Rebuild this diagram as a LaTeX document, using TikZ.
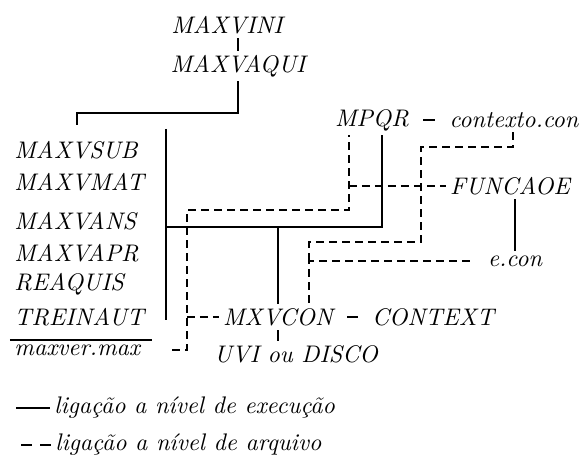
\documentclass[tikz,border=0pt]{standalone}
\usepackage{fontspec}
\newfontfamily\progfont{lmroman10-italic.otf}
\usepackage{tikz}
\usetikzlibrary{positioning,calc}

\begin{document}
\begin{tikzpicture}[
  x=0.5pt,y=-0.5pt,
  prog/.style={inner sep=2pt,font=\fontsize{12}{14}\progfont},
  lst/.style={prog,anchor=west},
  exe/.style={line width=0.8pt},
  arq/.style={line width=0.8pt,dash pattern=on 4pt off 2.5pt},
  tie/.style={exe,shorten <=5pt,shorten >=5pt},
]
  \useasboundingbox (0,0) rectangle (586,460);

  % programas
  \node[prog] (vini)    at (227,25)  {MAXVINI};
  \node[prog] (vaqui)   at (238,66)  {MAXVAQUI};
  \node[prog] (mpqr)    at (372,120) {MPQR};
  \node[prog] (ctxcon)  at (514,120) {contexto.con};
  \node[prog] (funcaoe) at (510,186) {FUNCAOE};
  \node[prog] (econ)    at (515,261) {e.con};
  \node[prog] (mxvcon)  at (278,317) {MXVCON};
  \node[prog] (context) at (433,317) {CONTEXT};
  \node[prog] (uvi)     at (296,354) {UVI ou DISCO};

  \node[lst] (sub)    at (10,150) {MAXVSUB};
  \node[lst] (mat)    at (10,182) {MAXVMAT};
  \node[lst] (ans)    at (10,221) {MAXVANS};
  \node[lst] (apr)    at (10,253) {MAXVAPR};
  \node[lst] (rea)    at (10,284) {REAQUIS};
  \node[lst] (trei)   at (10,317) {TREINAUT};
  \node[lst] (maxver) at (10,350) {maxver.max};

  % legenda
  \node[lst] (kexe) at (50,408) {ligação a nível de execução};
  \node[lst] (karq) at (51,445) {ligação a nível de arquivo};

  % pontos de juncao
  \coordinate (jl) at (77,113);
  \coordinate (bT) at (166,129);
  \coordinate (bB) at (166,320);
  \coordinate (bus) at (166,227);
  \coordinate (jq) at (382,227);
  \coordinate (jb) at (187,210);
  \coordinate (jc) at (349,210);
  \coordinate (jd) at (421,147);
  \coordinate (je) at (309,242);

  % ligacoes de execucao
  \draw[exe] (vini.south -| vaqui.north) -- (vaqui.north);
  \draw[exe] (vaqui.south) |- (jl) -- ++(0,12);
  \draw[exe] (bT) -- (bB);
  \draw[exe] (bus) -- (jq) -- (jq |- mpqr.south);
  \draw[exe] (bus -| mxvcon.north) -- (mxvcon.north);
  \draw[exe] (mxvcon.south) -- (uvi.north -| mxvcon.south);
  \draw[exe] (funcaoe.south -| econ.north) -- (econ.north);
  \draw[tie] (mpqr) -- (ctxcon);
  \draw[tie] (mxvcon) -- (context);
  \draw[exe] (maxver.north west) -- ++(142,0);

  % ligacoes de arquivo
  \draw[arq,shorten <=14pt] (maxver.east) -| (jb) -| (mpqr.south -| jc);
  \draw[arq] (jb |- mxvcon) -- (mxvcon.west);
  \draw[arq] (funcaoe.west -| jc) -- (funcaoe.west);
  \draw[arq] (ctxcon.south -| jd) ++(92,0) |- (jd) |- (je) -- (je |- econ);
  \draw[arq,shorten <=7pt] (econ.west) -| (je |- mxvcon.north);

  \draw[exe] (kexe.west) -- ++(-34,0);
  \draw[exe,dash pattern=on 5.5pt off 4pt] (karq.west) -- ++(-32,0);
\end{tikzpicture}
\end{document}
